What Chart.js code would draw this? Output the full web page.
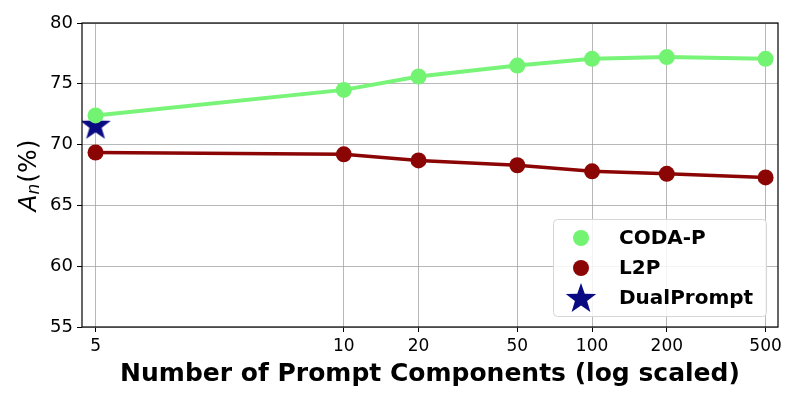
<!DOCTYPE html>
<html>
<head>
<meta charset="utf-8">
<script src="https://cdn.jsdelivr.net/npm/chart.js@4"></script>
<style>
  html, body { margin: 0; padding: 0; background: #fff; }
  #MiGrafica { display: block; }
</style>
</head>
<body>
<canvas id="MiGrafica" width="800" height="400"></canvas>
<script>
// the "5" column sits at position 1 on the log axis (as in the original figure)
var xPositions = [1, 10, 20, 50, 100, 200, 500];
var tickLabels = ['5', '10', '20', '50', '100', '200', '500'];

var codaP = [72.4, 74.5, 75.6, 76.5, 77.05, 77.2, 77.05];
var l2p = [69.35, 69.2, 68.7, 68.3, 67.8, 67.6, 67.3];
var dualPrompt = [71.55];

var seriesNames = ['CODA-P', 'L2P', 'DualPrompt'];

// filled 5 point star for the DualPrompt marker
var makeStar = (r, color) => {
    var c = document.createElement('canvas');
    c.width = r * 2 + 2;
    c.height = r * 2 + 2;
    var g = c.getContext('2d');
    g.fillStyle = color;
    g.beginPath();
    for (var i = 0; i < 10; i++) {
        var rad = i % 2 === 0 ? r : r * 0.4;
        var a = -Math.PI / 2 + i * Math.PI / 5;
        var px = r + 1 + rad * Math.cos(a);
        var py = r + 1 + rad * Math.sin(a);
        if (i === 0) g.moveTo(px, py); else g.lineTo(px, py);
    }
    g.closePath();
    g.fill();
    return c;
};

var starBig = makeStar(16, '#0a0a82');
var starLegend = makeStar(16, '#0a0a82');

var toPoints = (vals) => vals.map((v, i) => ({ x: xPositions[i], y: v }));

var framePlugin = {
    id: 'frame',
    afterDraw: (chart) => {
        var ctx = chart.ctx;
        var a = chart.chartArea;
        ctx.save();
        ctx.strokeStyle = '#000';
        ctx.lineWidth = 1.2;
        ctx.strokeRect(a.left, a.top, a.right - a.left, a.bottom - a.top);

        // y axis label A_n(%)
        ctx.translate(29, 176);
        ctx.rotate(-Math.PI / 2);
        ctx.fillStyle = '#000';
        ctx.textBaseline = 'middle';
        ctx.font = 'italic 25px "DejaVu Sans"';
        var wA = ctx.measureText('A').width;
        ctx.font = 'italic 17px "DejaVu Sans"';
        var wN = ctx.measureText('n').width;
        ctx.font = '25px "DejaVu Sans"';
        var wP = ctx.measureText('(%)').width;
        var x0 = -(wA + wN + wP) / 2;
        ctx.textAlign = 'left';
        ctx.font = 'italic 25px "DejaVu Sans"';
        ctx.fillText('A', x0, 0);
        ctx.font = 'italic 17px "DejaVu Sans"';
        ctx.fillText('n', x0 + wA, 6);
        ctx.font = '25px "DejaVu Sans"';
        ctx.fillText('(%)', x0 + wA + wN + 1, 0);
        ctx.restore();

        // legend box
        ctx.save();
        ctx.fillStyle = 'rgba(255,255,255,0.85)';
        ctx.strokeStyle = '#d6d6d6';
        ctx.lineWidth = 1;
        ctx.beginPath();
        ctx.roundRect(553.5, 219.5, 213, 97, 4);
        ctx.fill();
        ctx.stroke();
        var ys = [238, 268, 298];
        chart.data.datasets.forEach((ds, i) => {
            if (i < 2) {
                ctx.fillStyle = ds.pointBackgroundColor;
                ctx.beginPath();
                ctx.arc(581, ys[i], 8, 0, Math.PI * 2);
                ctx.fill();
            } else {
                ctx.drawImage(starLegend, 581 - starLegend.width / 2, ys[i] - starLegend.height / 2 + 1);
            }
            ctx.fillStyle = '#000';
            ctx.font = 'bold 20px "DejaVu Sans"';
            ctx.textAlign = 'left';
            ctx.textBaseline = 'middle';
            ctx.fillText(ds.label, 619, ys[i] + 1);
        });
        ctx.restore();
    }
};

var ctx = document.getElementById('MiGrafica').getContext('2d');
var myChart = new Chart(ctx, {
    type: 'line',
    data: {
        datasets: [{
            label: seriesNames[0],
            data: toPoints(codaP),
            borderColor: '#78f478',
            backgroundColor: '#78f478',
            pointBackgroundColor: '#72f472',
            pointBorderWidth: 0,
            pointRadius: 8,
            borderWidth: 4,
            tension: 0
        }, {
            label: seriesNames[1],
            data: toPoints(l2p),
            borderColor: '#8b0505',
            backgroundColor: '#8b0505',
            pointBackgroundColor: '#8b0505',
            pointBorderWidth: 0,
            pointRadius: 8,
            borderWidth: 3.5,
            tension: 0
        }, {
            label: seriesNames[2],
            data: toPoints(dualPrompt),
            showLine: false,
            pointStyle: starBig,
            pointRadius: 16
        }]
    },
    plugins: [framePlugin],
    options: {
        responsive: false,
        animation: false,
        devicePixelRatio: 1,
        layout: { padding: { top: 23, right: 22, left: 0, bottom: 0 } },
        plugins: {
            legend: { display: false },
            tooltip: { enabled: false }
        },
        scales: {
            x: {
                type: 'logarithmic',
                min: 0.882,
                max: 561,
                z: 1,
                afterBuildTicks: (scale) => {
                    scale.ticks = xPositions.map((v) => ({ value: v }));
                },
                afterFit: (scale) => { scale.height = 73; },
                grid: {
                    color: 'rgba(160,160,160,0.75)',
                    lineWidth: 1,
                    tickColor: '#000',
                    tickLength: 5
                },
                border: { display: false },
                ticks: {
                    autoSkip: false,
                    maxRotation: 0,
                    padding: 4,
                    color: '#000',
                    font: { family: 'DejaVu Sans', size: 17 },
                    callback: (value) => {
                        var i = xPositions.indexOf(value);
                        return i >= 0 ? tickLabels[i] : '';
                    }
                },
                title: {
                    display: true,
                    text: 'Number of Prompt Components (log scaled)',
                    color: '#000',
                    font: { family: 'DejaVu Sans', size: 25, weight: 'bold' },
                    padding: { top: 0, bottom: 11 }
                }
            },
            y: {
                min: 55,
                max: 80,
                z: 1,
                afterFit: (scale) => { scale.width = 82; },
                grid: {
                    color: 'rgba(160,160,160,0.75)',
                    lineWidth: 1,
                    tickColor: '#000',
                    tickLength: 5
                },
                border: { display: false },
                ticks: {
                    stepSize: 5,
                    padding: 4,
                    color: '#000',
                    font: { family: 'DejaVu Sans', size: 18 }
                }
            }
        }
    }
});
</script>
</body>
</html>
